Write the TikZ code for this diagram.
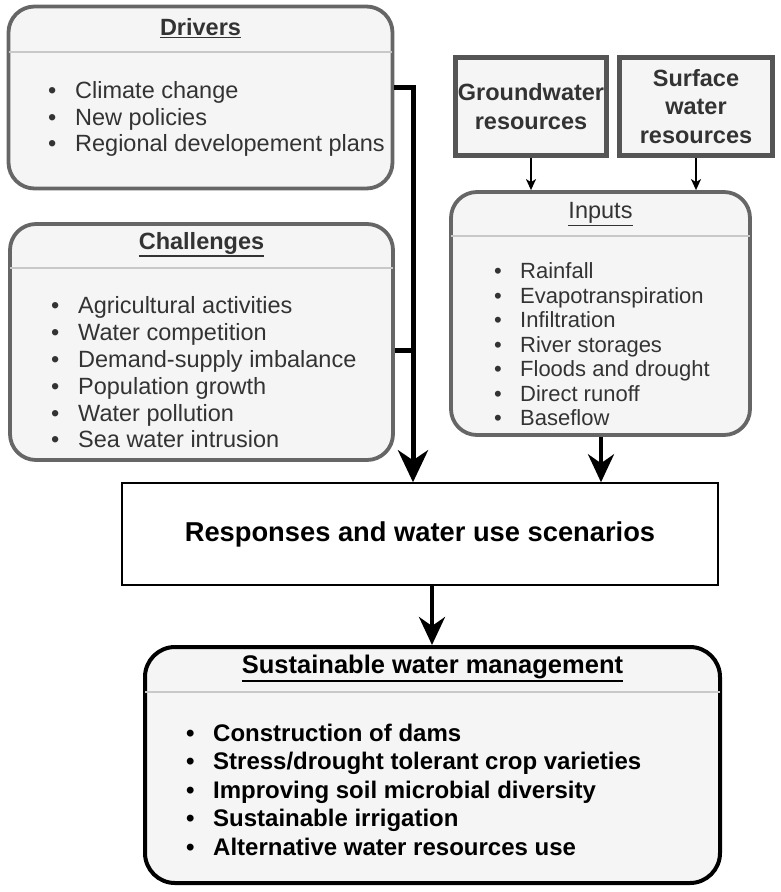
\documentclass[tikz,border=0pt]{standalone}
\usepackage{fontspec}
\setmainfont{Liberation Sans}
\usetikzlibrary{arrows.meta}
\definecolor{boxgray}{HTML}{666666}
\definecolor{resgray}{HTML}{555555}
\definecolor{panelfill}{HTML}{F5F5F5}
\definecolor{sepgray}{HTML}{C8C8C8}
\definecolor{txtgray}{HTML}{333333}
\newcommand{\thickul}[1]{\setbox0\hbox{#1}\leavevmode\rlap{\smash{\raisebox{-\dimexpr\dp0+2.8pt\relax}{\rule{\wd0}{1.5pt}}}}\box0}
\begin{document}
\begin{tikzpicture}[x=1pt,y=-1pt,
  panel/.style={draw=boxgray, line width=3.8pt, fill=panelfill, rounded corners=26pt, inner sep=0pt},
  respanel/.style={draw=resgray, line width=5pt, fill=panelfill, inner sep=0pt, text=txtgray,
     font=\fontsize{23.5}{28.5}\selectfont\bfseries, align=center},
  mgmt/.style={draw=black, line width=4pt, fill=panelfill, rounded corners=30pt, inner sep=0pt},
  sepline/.style={draw=sepgray, line width=2pt, shorten <=2pt, shorten >=2pt},
  ttl/.style={inner sep=0pt, text=txtgray, font=\fontsize{23.5}{26}\selectfont},
  lst/.style={inner sep=0pt, anchor=west, align=left, text=txtgray},
  bigline/.style={draw=black, line width=5pt},
  midline/.style={draw=black, line width=4pt},
  thinline/.style={draw=black, line width=1.5pt},
  bigtip/.style={-{Stealth[length=32pt,width=30pt,inset=10pt]}},
  midtip/.style={-{Stealth[length=28pt,width=26pt,inset=9pt]}},
  smalltip/.style={-{Stealth[length=11pt,width=10pt,inset=3pt]}}
]
\useasboundingbox (0,0) rectangle (780,892);
\fill[white] (0,0) rectangle (780,892);

% Drivers
\node[panel, minimum width=384pt, minimum height=182pt] (drivers) at (200.5,97.5) {};
\draw[sepline] (drivers.west |- 0,52) -- (drivers.east |- 0,52);
\node[ttl] (drvtitle) at (200.5,27) {\thickul{\textbf{Drivers}}};
\node[lst, font=\fontsize{23.5}{26.5}\selectfont] (drvlist) at (48,119)
  {\makebox[27pt][l]{•}Climate change\\
   \makebox[27pt][l]{•}New policies\\
   \makebox[27pt][l]{•}Regional developement plans};

% Challenges
\node[panel, minimum width=383pt, minimum height=236pt] (chal) at (201.5,342) {};
\draw[sepline] (chal.west |- 0,268) -- (chal.east |- 0,268);
\node[ttl] (chaltitle) at (201.5,243) {\thickul{\textbf{Challenges}}};
\node[lst, font=\fontsize{23.5}{26.8}\selectfont] (challist) at (51,372.5)
  {\makebox[27pt][l]{•}Agricultural activities\\
   \makebox[27pt][l]{•}Water competition\\
   \makebox[27pt][l]{•}Demand-supply imbalance\\
   \makebox[27pt][l]{•}Population growth\\
   \makebox[27pt][l]{•}Water pollution\\
   \makebox[27pt][l]{•}Sea water intrusion};

% Resources
\node[respanel, minimum width=151pt, minimum height=98pt] (ground) at (531,106.5)
  {Groundwater\\resources};
\node[respanel, minimum width=153pt, minimum height=98pt] (surface) at (696,106.5)
  {Surface\\water\\resources};

% Inputs
\node[panel, minimum width=299pt, minimum height=243pt] (inputs) at (600.5,313.5) {};
\draw[sepline] (inputs.west |- 0,236) -- (inputs.east |- 0,236);
\node[ttl] (inptitle) at (600.5,213) {\thickul{Inputs}};
\node[lst, font=\fontsize{22}{24.5}\selectfont] (inplist) at (494,344.5)
  {\makebox[26pt][l]{•}Rainfall\\
   \makebox[26pt][l]{•}Evapotranspiration\\
   \makebox[26pt][l]{•}Infiltration\\
   \makebox[26pt][l]{•}River storages\\
   \makebox[26pt][l]{•}Floods and drought\\
   \makebox[26pt][l]{•}Direct runoff\\
   \makebox[26pt][l]{•}Baseflow};

% Responses
\node[draw=black, line width=1.5pt, fill=white, minimum width=596pt, minimum height=102pt,
  inner sep=0pt, font=\fontsize{27.3}{30}\selectfont\bfseries] (resp) at (420,534)
  {Responses and water use scenarios};

% Sustainable water management
\node[mgmt, minimum width=575pt, minimum height=236pt] (swm) at (432.5,765) {};
\draw[sepline] (swm.west |- 0,692) -- (swm.east |- 0,692);
\node[inner sep=0pt, font=\fontsize{25.5}{28}\selectfont\bfseries] (swmtitle) at (432.5,667)
  {\thickul{Sustainable water management}};
\node[lst, text=black, font=\fontsize{24}{28.5}\selectfont\bfseries] (swmlist) at (186,789.5)
  {\makebox[27pt][l]{•}Construction of dams\\
   \makebox[27pt][l]{•}Stress/drought tolerant crop varieties\\
   \makebox[27pt][l]{•}Improving soil microbial diversity\\
   \makebox[27pt][l]{•}Sustainable irrigation\\
   \makebox[27pt][l]{•}Alternative water resources use};

% Connectors
\coordinate (jtop) at (413,87);
\draw[bigline, bigtip] ([yshift=10.5pt]drivers.east) -- (jtop) -- (jtop |- resp.north);
\draw[bigline] ([yshift=-8pt]chal.east) -- ([yshift=-8pt]chal.east -| jtop);
\draw[midline, midtip] (inputs.south -| 601,0) -- (resp.north -| 601,0);
\draw[thinline, smalltip] (ground.south) -- (ground.south |- inputs.north);
\draw[thinline, smalltip] (surface.south) -- (surface.south |- inputs.north);
\draw[midline, midtip] (resp.south -| 432,0) -- (swm.north -| 432,0);
\end{tikzpicture}
\end{document}
